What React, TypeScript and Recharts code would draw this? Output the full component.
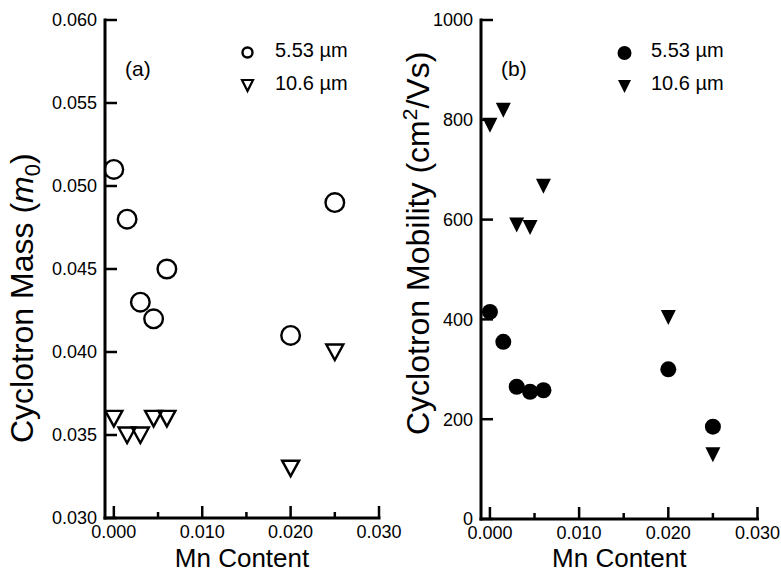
import React from "react";
import { ScatterChart, Scatter, XAxis, YAxis, Label, Customized } from "recharts";

// Mn content of the samples (shared by both panels)
const mnContent = [0.0, 0.0015, 0.003, 0.0045, 0.006, 0.02, 0.025];

// (a) cyclotron mass, units of m0
const mass553 = [0.051, 0.048, 0.043, 0.042, 0.045, 0.041, 0.049];
const mass106 = [0.036, 0.035, 0.035, 0.036, 0.036, 0.033, 0.04];

// (b) cyclotron mobility, cm2/Vs
const mobility553 = [415, 355, 265, 255, 258, 300, 185];
const mobility106 = [790, 820, 590, 585, 668, 405, 130];

const xTicks = [0, 0.005, 0.01, 0.015, 0.02, 0.025, 0.03];
const massTicks = [0.03, 0.035, 0.04, 0.045, 0.05, 0.055, 0.06];
const mobilityTicks = [0, 200, 400, 600, 800, 1000];
const xDomain: [number, number] = [-0.001, 0.03];

const FONT = '"Liberation Sans", Arial, Helvetica, sans-serif';
const frame = { stroke: "#000", strokeWidth: 3, strokeLinecap: "square" as const };

const toPoints = (ys: number[]) => mnContent.map((x, i) => ({ x, y: ys[i] }));

const isMajorX = (v: number) => Math.abs(v * 100 - Math.round(v * 100)) < 1e-6;

function xTick(side: "bottom" | "top") {
  return (props: any) => {
    const { x, y, payload } = props;
    const major = isMajorX(payload.value);
    const dir = side === "bottom" ? -1 : 1;
    return (
      <g>
        <line x1={x} x2={x} y1={y} y2={y + dir * (major ? 12 : 6)} stroke="#000" strokeWidth={2.5} />
        {side === "bottom" && major && (
          <text x={x} y={y + 20} textAnchor="middle" fontSize={18} fontFamily={FONT} fill="#000">
            {payload.value.toFixed(3)}
          </text>
        )}
      </g>
    );
  };
}

function yTick(side: "left" | "right", fmt?: (v: number) => string) {
  return (props: any) => {
    const { x, y, payload } = props;
    const dir = side === "left" ? 1 : -1;
    return (
      <g>
        <line x1={x} x2={x + dir * 12} y1={y} y2={y} stroke="#000" strokeWidth={2.5} />
        {fmt && (
          <text x={x - 8} y={y} dy="0.36em" textAnchor="end" fontSize={18} fontFamily={FONT} fill="#000">
            {fmt(payload.value)}
          </text>
        )}
      </g>
    );
  };
}

const OpenCircle = (p: any) => (
  <circle cx={p.cx} cy={p.cy} r={9.3} fill="none" stroke="#000" strokeWidth={2.4} />
);
const OpenTriangle = (p: any) => (
  <path
    d={`M${p.cx - 8.5},${p.cy - 7.5}L${p.cx + 8.5},${p.cy - 7.5}L${p.cx},${p.cy + 8}Z`}
    fill="none"
    stroke="#000"
    strokeWidth={2.4}
  />
);
const FilledCircle = (p: any) => <circle cx={p.cx} cy={p.cy} r={8} fill="#000" />;
const FilledTriangle = (p: any) => (
  <path d={`M${p.cx - 7.5},${p.cy - 7}L${p.cx + 7.5},${p.cy - 7}L${p.cx},${p.cy + 8}Z`} fill="#000" />
);

const textProps = { fontFamily: FONT, fill: "#000" };

function PanelA() {
  return (
    <g>
      <text x={125} y={76} fontSize={21} {...textProps}>(a)</text>
      <circle cx={247.5} cy={52.5} r={5} fill="none" stroke="#000" strokeWidth={2.4} />
      <text x={275} y={57} fontSize={20} {...textProps}>5.53 µm</text>
      <path d="M242,80L253,80L247.5,91Z" fill="none" stroke="#000" strokeWidth={2.2} />
      <text x={275} y={90} fontSize={20} {...textProps}>10.6 µm</text>
      <text x={33} y={443} transform="rotate(-90 33 443)" fontSize={32} {...textProps}>
        Cyclotron Mass (<tspan fontStyle="italic">m</tspan>
        <tspan dy={7} fontSize={22}>0</tspan>
        <tspan dy={-7}>)</tspan>
      </text>
    </g>
  );
}

function PanelB() {
  return (
    <g>
      <text x={111} y={76} fontSize={21} {...textProps}>(b)</text>
      <circle cx={234.5} cy={53} r={7} fill="#000" />
      <text x={261} y={57} fontSize={20} {...textProps}>5.53 µm</text>
      <path d="M228,80L241,80L234.5,93Z" fill="#000" />
      <text x={261} y={90} fontSize={20} {...textProps}>10.6 µm</text>
      <text x={39} y={435} transform="rotate(-90 39 435)" fontSize={32} {...textProps}>
        Cyclotron Mobility (cm<tspan dy={-12} fontSize={21}>2</tspan>
        <tspan dy={12}>/Vs)</tspan>
      </text>
    </g>
  );
}

function Panel(props: {
  width: number;
  rightMargin: number;
  yWidth: number;
  xHeight: number;
  yDomain: [number, number];
  yTicks: number[];
  fmt: (v: number) => string;
  series: { data: { x: number; y: number }[]; shape: any }[];
  extras: React.ReactElement;
}) {
  const { width, rightMargin, yWidth, xHeight, yDomain, yTicks, fmt, series, extras } = props;
  return (
    <ScatterChart width={width} height={572} margin={{ top: 20, right: rightMargin, bottom: 0, left: 0 }}>
      <XAxis
        xAxisId="b"
        type="number"
        dataKey="x"
        domain={xDomain}
        ticks={xTicks}
        allowDataOverflow
        interval={0}
        tickSize={0}
        tickMargin={0}
        tickLine={false}
        tick={xTick("bottom")}
        axisLine={frame}
        height={xHeight}
      >
        <Label value="Mn Content" position="insideBottom" offset={5} fontSize={26} fontFamily={FONT} fill="#000" />
      </XAxis>
      <XAxis
        xAxisId="t"
        orientation="top"
        type="number"
        domain={xDomain}
        ticks={xTicks}
        allowDataOverflow
        interval={0}
        tickSize={0}
        tickMargin={0}
        tickLine={false}
        tick={xTick("top")}
        axisLine={frame}
        height={0}
      />
      <YAxis
        yAxisId="l"
        type="number"
        dataKey="y"
        domain={yDomain}
        ticks={yTicks}
        allowDataOverflow
        interval={0}
        tickSize={0}
        tickMargin={0}
        tickLine={false}
        tick={yTick("left", fmt)}
        axisLine={frame}
        width={yWidth}
      />
      <YAxis
        yAxisId="r"
        orientation="right"
        type="number"
        domain={yDomain}
        ticks={yTicks}
        allowDataOverflow
        interval={0}
        tickSize={0}
        tickMargin={0}
        tickLine={false}
        tick={yTick("right")}
        axisLine={frame}
        width={0}
      />
      {series.map((s, i) => (
        <Scatter key={i} xAxisId="b" yAxisId="l" data={s.data} shape={s.shape} isAnimationActive={false} />
      ))}
      <Customized component={extras} />
    </ScatterChart>
  );
}

export default function App() {
  return (
    <div style={{ position: "absolute", left: 0, top: 0, width: 781, height: 572, background: "#fff", display: "flex" }}>
      <style>{`.recharts-surface { overflow: visible; }`}</style>
      <Panel
        width={390}
        rightMargin={11}
        yWidth={105}
        xHeight={54}
        yDomain={[0.03, 0.06]}
        yTicks={massTicks}
        fmt={(v) => v.toFixed(3)}
        series={[
          { data: toPoints(mass553), shape: OpenCircle },
          { data: toPoints(mass106), shape: OpenTriangle },
        ]}
        extras={<PanelA />}
      />
      <Panel
        width={391}
        rightMargin={23.5}
        yWidth={91}
        xHeight={53}
        yDomain={[0, 1000]}
        yTicks={mobilityTicks}
        fmt={(v) => String(v)}
        series={[
          { data: toPoints(mobility553), shape: FilledCircle },
          { data: toPoints(mobility106), shape: FilledTriangle },
        ]}
        extras={<PanelB />}
      />
    </div>
  );
}
